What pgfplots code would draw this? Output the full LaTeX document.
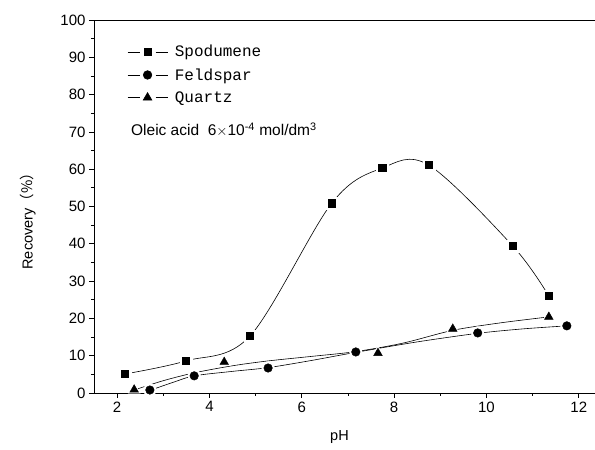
\documentclass[border=0pt]{standalone}
\usepackage{fontspec}
\setmainfont{Liberation Sans}
\newfontfamily\legfont{Liberation Mono}
\newfontfamily\cjk{Noto Sans CJK SC}
\usepackage{pgfplots}
\usepackage{pgfplotstable}
\pgfplotsset{compat=1.18}

% measured points
\pgfplotstableread{
ph rec
2.17 5.1
3.49 8.6
4.88 15.3
6.65 50.9
7.74 60.3
8.75 61.1
10.57 39.4
11.35 26.0
}\spod
\pgfplotstableread{
ph rec
2.71 0.8
3.67 4.6
5.27 6.7
7.17 11.0
9.81 16.1
11.74 18.0
}\feld
\pgfplotstableread{
ph rec
2.37 0.9
4.32 8.3
7.65 10.7
9.27 17.2
11.35 20.4
}\quar
% fitted curves
\pgfplotstableread{
ph rec
2.71 0.7
3.2 2.8
3.67 4.6
4.5 5.8
5.27 6.8
6.2 8.7
7.17 10.9
8.5 13.7
9.81 16.0
10.8 17.2
11.74 18.0
}\feldfit
\pgfplotstableread{
ph rec
2.37 0.8
3.0 3.3
3.67 5.4
4.5 7.3
5.27 8.6
6.2 9.8
7.17 11.1
8.2 13.4
9.27 16.8
10.3 18.8
11.35 20.4
}\quarfit

\begin{document}
\begin{tikzpicture}
\useasboundingbox (-94pt,-57pt) rectangle (501pt,393pt);
\begin{axis}[
    at={(0pt,0pt)}, anchor=south west,
    scale only axis,
    width=501pt, height=373pt,
    xmin=1.5, xmax=12.35,
    ymin=0, ymax=100,
    axis x line=box, axis y line=left,
    axis line style={-, line width=0.8pt},
    xtick={2,4,...,12}, ytick={0,10,...,100},
    minor x tick num=1, minor y tick num=1,
    xtick pos=bottom, ytick pos=left,
    tick align=outside,
    major tick length=5pt, minor tick length=3pt,
    every tick/.style={black, line width=0.7pt},
    /pgf/number format/assume math mode=true,
    ticklabel style={font=\fontsize{15}{17}\selectfont},
    xlabel={pH}, ylabel={Recovery{\cjk （\%）}},
    label style={font=\fontsize{14.5}{17}\selectfont},
    xlabel style={at={(axis description cs:0.49,-0.118)}, anchor=center},
    ylabel style={at={(axis description cs:-0.132,0.47)}, anchor=center},
    legend style={draw=none, fill=none, at={(rel axis cs:0.066,0.938)}, anchor=north west,
        font=\legfont\fontsize{16}{18}\selectfont, row sep=6pt,
        inner sep=0pt,
        /tikz/every odd column/.append style={column sep=5pt}},
    legend cell align=left,
    legend image code/.code={
        \draw[#1, mark=none] (0pt,0pt) -- (12pt,0pt);
        \draw[#1, mark=none] (28pt,0pt) -- (40pt,0pt);
        \draw[#1, only marks] plot coordinates {(20pt,0pt)};
    },
]
\addlegendimage{black, line width=0.6pt, mark=square*, mark size=3.6pt, mark options={solid}}
\addlegendentry{Spodumene}
\addlegendimage{black, line width=0.6pt, mark=*, mark size=4.3pt}
\addlegendentry{Feldspar}
\addlegendimage{black, line width=0.6pt, mark=triangle*, mark size=5pt}
\addlegendentry{Quartz}

% curves
\addplot[black, line width=0.6pt, smooth, tension=0.55, forget plot] table[x=ph, y=rec] {\spod};
\addplot[black, line width=0.6pt, smooth, forget plot] table[x=ph, y=rec] {\feldfit};
\addplot[black, line width=0.6pt, smooth, forget plot] table[x=ph, y=rec] {\quarfit};

% white halos round the markers
\addplot[only marks, mark=square*, mark size=6pt, white, forget plot] table[x=ph, y=rec] {\spod};
\addplot[only marks, mark=*, mark size=6.3pt, white, forget plot] table[x=ph, y=rec] {\feld};
\addplot[only marks, mark=triangle*, mark size=7pt, white, forget plot] table[x=ph, y=rec] {\quar};

% markers
\addplot[only marks, mark=square*, mark size=3.6pt, black, forget plot] table[x=ph, y=rec] {\spod};
\addplot[only marks, mark=*, mark size=4.3pt, black, forget plot] table[x=ph, y=rec] {\feld};
\addplot[only marks, mark=triangle*, mark size=5pt, black, forget plot] table[x=ph, y=rec] {\quar};

\node[anchor=west, font=\fontsize{15.5}{18}\selectfont, inner sep=0pt]
    at (axis cs:2.3,70.5) {Oleic acid\ \ 6$\times$10\textsuperscript{-4} mol/dm\textsuperscript{3}};
\end{axis}
\end{tikzpicture}
\end{document}
